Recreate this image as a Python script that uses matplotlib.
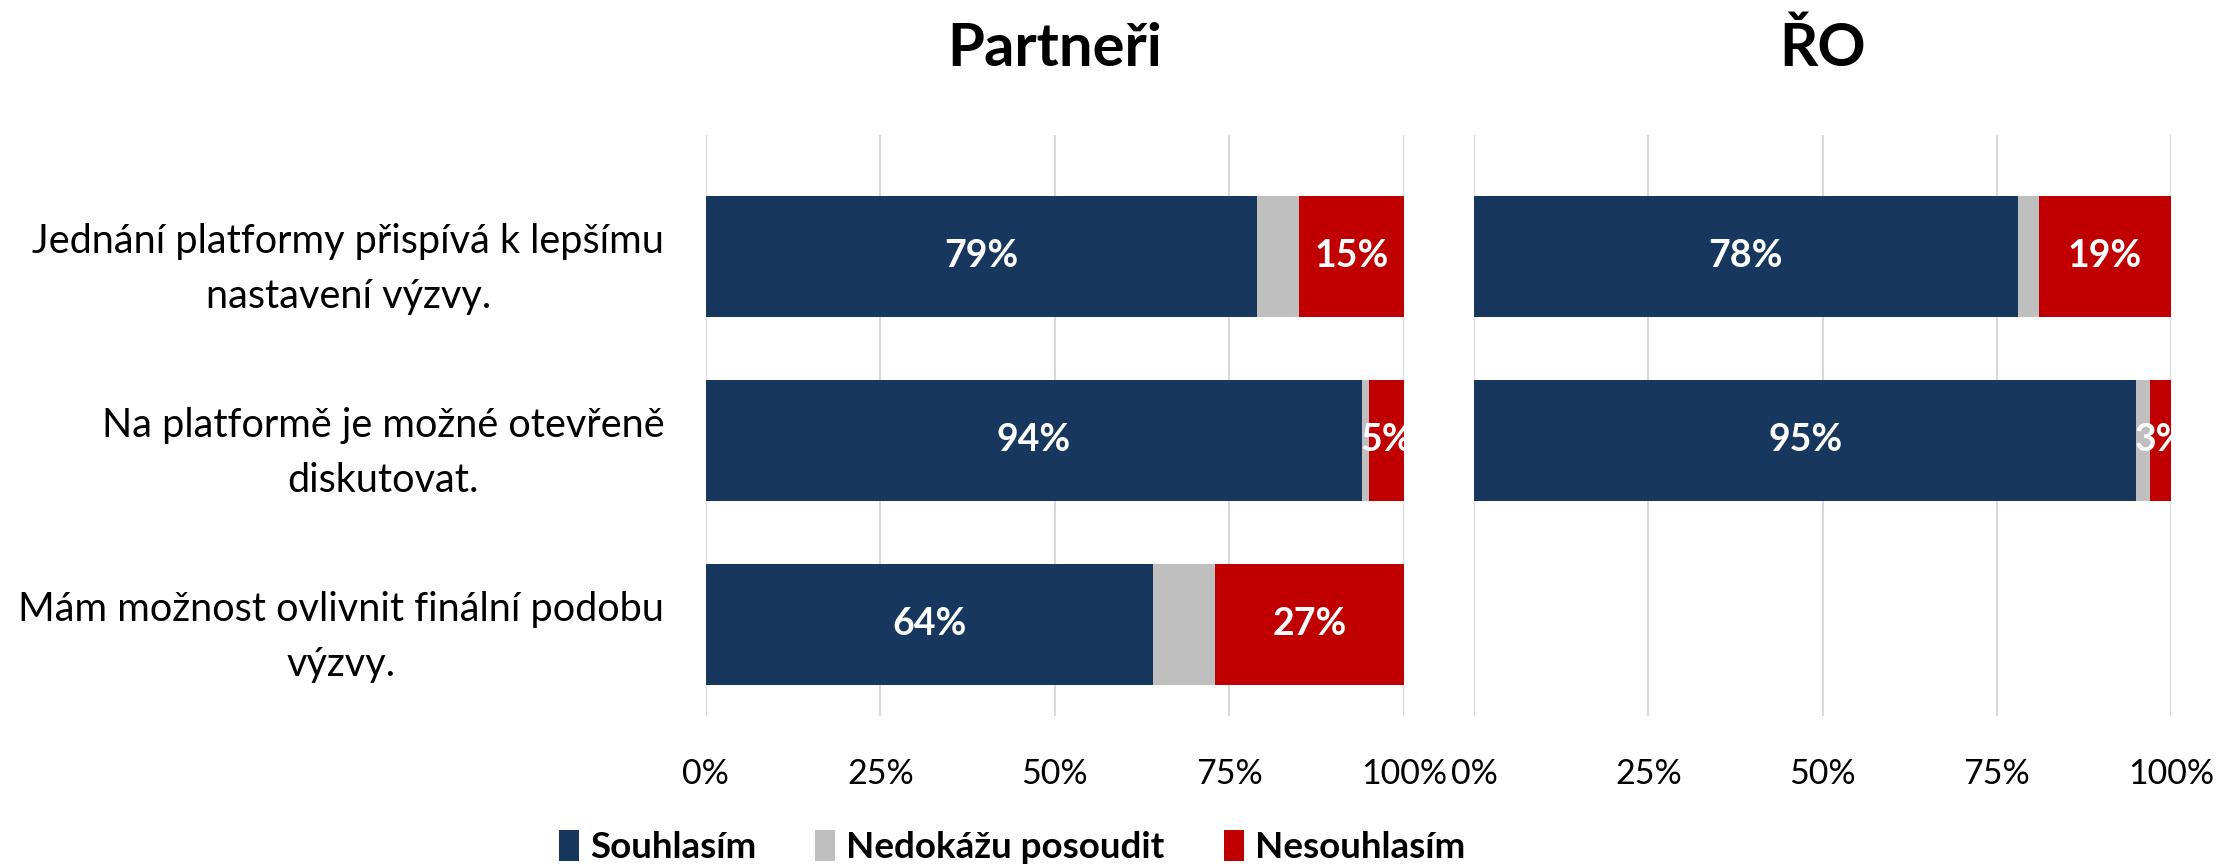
import numpy as np
import matplotlib
matplotlib.use("Agg")
import matplotlib.pyplot as plt
from matplotlib.patches import Patch

plt.rcParams['font.family'] = ['Lato', 'DejaVu Sans']

# data
questions = ["Jednání platformy přispívá k lepšímu\nnastavení výzvy.",
             "Na platformě je možné otevřeně\ndiskutovat.",
             "Mám možnost ovlivnit finální podobu\nvýzvy."]
series = ["Souhlasím", "Nedokážu posoudit", "Nesouhlasím"]
colors = ["#17375E", "#BFBFBF", "#C00000"]

partneri_agree = [79, 94, 64]
partneri_unsure = [6, 1, 9]
partneri_disagree = [15, 5, 27]

ro_agree = [78, 95, np.nan]
ro_unsure = [3, 2, np.nan]
ro_disagree = [19, 3, np.nan]

ticks = [0, 25, 50, 75, 100]
tick_labels = ["0%", "25%", "50%", "75%", "100%"]

fig = plt.figure(figsize=(22.24, 8.66), dpi=100)
ax1 = fig.add_axes([0.3174, 0.173, 0.3138, 0.671])
ax2 = fig.add_axes([0.6628, 0.173, 0.3134, 0.671])


def draw(ax, agree, unsure, disagree, title):
    y = np.arange(len(questions))
    a = np.array(agree, dtype=float)
    u = np.array(unsure, dtype=float)
    d = np.array(disagree, dtype=float)
    ax.barh(y, a, height=0.66, color=colors[0], zorder=2)
    ax.barh(y, u, left=a, height=0.66, color=colors[1], zorder=2)
    ax.barh(y, d, left=a + u, height=0.66, color=colors[2], zorder=2)
    for i in range(len(y)):
        if np.isnan(a[i]):
            continue
        ax.text(a[i] / 2, y[i], f"{int(a[i])}%", color="white", fontsize=27,
                fontweight="bold", ha="center", va="center", clip_on=True, zorder=3)
        ax.text(a[i] + u[i] + d[i] / 2, y[i], f"{int(d[i])}%", color="white",
                fontsize=27, fontweight="bold", ha="center", va="center",
                clip_on=True, zorder=3)
    ax.set_xlim(0, 100)
    ax.set_ylim(2.5, -0.66)
    ax.set_xticks(ticks)
    ax.set_xticklabels(tick_labels, fontsize=24.5)
    ax.grid(axis="x", color="#D9D9D9", linewidth=1.5, zorder=0)
    ax.tick_params(axis="x", length=0, pad=30)
    ax.tick_params(axis="y", length=0)
    for s in ax.spines.values():
        s.set_visible(False)
    ax.set_title(title, fontsize=43, fontweight="bold", pad=50)


draw(ax1, partneri_agree, partneri_unsure, partneri_disagree, "Partneři")
draw(ax2, ro_agree, ro_unsure, ro_disagree, "ŘO")

ax1.set_yticks(np.arange(len(questions)))
ax1.set_yticklabels(questions, fontsize=28.5, linespacing=1.6)
for lbl in ax1.get_yticklabels():
    lbl.set_multialignment("center")
ax1.tick_params(axis="y", pad=30)
ax2.set_yticks([])

handles = [Patch(facecolor=c, label=s) for c, s in zip(colors, series)]
leg = fig.legend(handles=handles, loc="center", bbox_to_anchor=(0.455, 0.022),
                 ncol=3, frameon=False, handlelength=0.55, handleheight=0.9,
                 handletextpad=0.3, columnspacing=1.6,
                 prop={"size": 26.5, "weight": "bold"})

fig.savefig("out.png", dpi=100)
